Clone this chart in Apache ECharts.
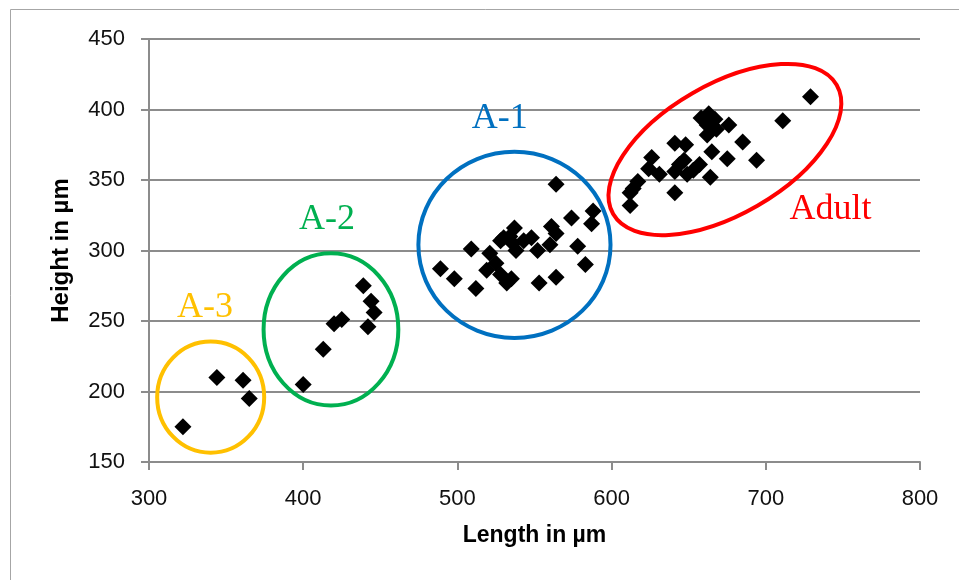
<!DOCTYPE html>
<html>
<head>
<meta charset="utf-8">
<script src="https://cdn.jsdelivr.net/npm/echarts@6/dist/echarts.min.js"></script>
<style>html,body{margin:0;padding:0;background:#fff}#c{width:959px;height:580px}</style>
</head>
<body>
<div id="c"></div>
<script>
// ---- data (Length µm, Height µm) ----
const groupA3 = [[322,175],[344,210],[361,208],[365,195]];
const groupA2 = [[400,205],[413,230],[420,248],[425,251],[439,275],[444,264],[446,256],[442,246]];
const groupA1 = [[564,347],[489,287],[498,280],[509,301],[512,273],[521,298],[519,286],[525,291],
  [528,283],[532,277],[535,280],[537,316],[530,309],[536,305],[538,300],[543,307],[534,310],
  [548,309],[552,300],[561,317],[564,312],[560,304],[553,277],[564,281],[574,323],[588,328],
  [587,319],[578,303],[583,290],[528,307]];
const groupAdult = [[729,409],[711,392],[663,397],[658,394],[667,393],[676,389],[668,386],[662,382],
  [665,370],[685,377],[675,365],[694,364],[664,352],[641,376],[648,375],[626,366],[647,364],
  [624,358],[631,354],[641,356],[657,361],[653,357],[649,354],[641,341],[617,349],[614,344],
  [612,341],[612,332],[644,361],[662,389]];

const xTicks = [300, 400, 500, 600, 700, 800];
const yTicks = [150, 200, 250, 300, 350, 400, 450];

// ---- group annotations: ellipse (centre, radii in data units, tilt deg) and label ----
const groupNames = ['A-3', 'A-2', 'A-1', 'Adult'];
const ellipseCentres = [[340, 196], [418, 244], [537, 304], [673.5, 371.6]];
const ellipseRadii = [[34.7, 39.4], [43.7, 54], [62.3, 66], [83.7, 46.1]];
const ellipseTilt = [0, 0, 0, 30];
const labelAnchors = [[336.3, 259.2], [415.4, 322], [527.4, 393.3], [742, 329.1]];

// ---- styles ----
const groupColors = ['#FFC000', '#00B050', '#0070C0', '#FF0000'];

const allPoints = groupA3.concat(groupA2, groupA1, groupAdult);
const ellipseData = ellipseCentres.map((c, i) => [c[0], c[1], ellipseRadii[i][0], ellipseRadii[i][1], ellipseTilt[i]]);
const labelData = labelAnchors.map((c, i) => [c[0], c[1], i]);

const chart = echarts.init(document.getElementById('c'), null, {renderer: 'canvas'});
const gridColor = '#8c8c8c';
const labelFont = 'Liberation Sans';

chart.setOption({
  animation: false,
  backgroundColor: '#ffffff',
  graphic: [{
    type: 'rect', left: 8, top: 7, z: -10,
    shape: {width: 1000, height: 620},
    style: {fill: 'none', stroke: '#a6a6a6', lineWidth: 1}
  }],
  grid: {left: 149, right: 39, top: 39, bottom: 118, containLabel: false},
  xAxis: {
    type: 'value', min: 300, max: 800, interval: 100,
    name: 'Length in µm', nameLocation: 'middle', nameGap: 62,
    nameTextStyle: {fontFamily: labelFont, fontWeight: 'bold', fontSize: 23, color: '#000'},
    axisLine: {show: true, lineStyle: {color: gridColor, width: 2}},
    axisTick: {show: true, inside: false, length: 8, lineStyle: {color: gridColor, width: 2}},
    axisLabel: {margin: 26, fontFamily: labelFont, fontSize: 22, color: '#111',
      customValues: xTicks},
    splitLine: {show: false}
  },
  yAxis: {
    type: 'value', min: 150, max: 450, interval: 50,
    name: 'Height in µm', nameLocation: 'middle', nameGap: 76, nameRotate: 90,
    nameTextStyle: {fontFamily: labelFont, fontWeight: 'bold', fontSize: 24, color: '#000'},
    axisLine: {show: true, lineStyle: {color: gridColor, width: 2}},
    axisTick: {show: true, inside: false, length: 8, lineStyle: {color: gridColor, width: 2}},
    axisLabel: {margin: 24, fontFamily: labelFont, fontSize: 22, color: '#111',
      customValues: yTicks},
    splitLine: {show: true, lineStyle: {color: gridColor, width: 2}}
  },
  series: [
    {
      type: 'custom', name: 'ellipses', clip: false, z: 3,
      data: ellipseData,
      encode: {x: 0, y: 1},
      renderItem: function (params, api) {
        const c = api.coord([api.value(0), api.value(1)]);
        const s = api.size([api.value(2), api.value(3)]);
        return {
          type: 'ellipse', x: c[0], y: c[1],
          rotation: api.value(4) * Math.PI / 180,
          shape: {cx: 0, cy: 0, rx: s[0], ry: s[1]},
          style: {fill: 'none', stroke: groupColors[params.dataIndex], lineWidth: 4}
        };
      }
    },
    {
      type: 'custom', name: 'labels', clip: false, z: 4,
      data: labelData,
      encode: {x: 0, y: 1},
      renderItem: function (params, api) {
        const c = api.coord([api.value(0), api.value(1)]);
        const i = params.dataIndex;
        return {
          type: 'text', x: c[0], y: c[1],
          style: {text: groupNames[i], fill: groupColors[i], fontFamily: 'Liberation Serif',
            fontSize: 36, align: 'center', verticalAlign: 'middle'}
        };
      }
    },
    {
      type: 'scatter', name: 'specimens', z: 5,
      data: allPoints,
      symbol: 'diamond', symbolSize: 17,
      itemStyle: {color: '#000000', opacity: 1}
    }
  ]
});
</script>
</body>
</html>
